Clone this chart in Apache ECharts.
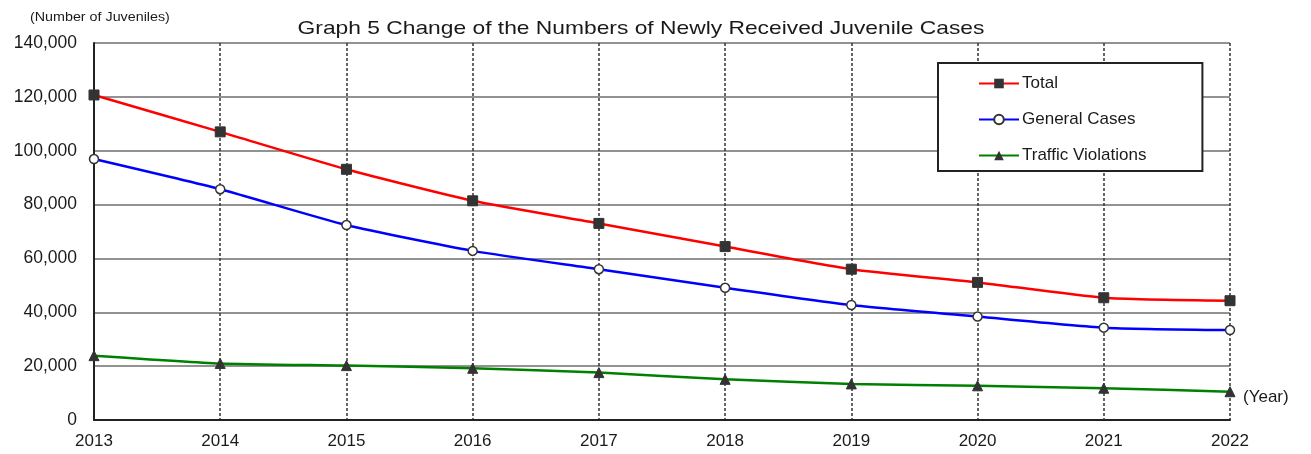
<!DOCTYPE html>
<html>
<head>
<meta charset="utf-8">
<script src="https://cdn.jsdelivr.net/npm/echarts@6/dist/echarts.min.js"></script>
<style>
html,body{margin:0;padding:0;background:#fff;}
#chart{width:1311px;height:454px;}
</style>
</head>
<body>
<div id="chart"></div>
<script>
// values
var years=['2013','2014','2015','2016','2017','2018','2019','2020','2021','2022'];
var total=[120700,107000,93100,81400,73000,64400,56000,51100,45400,44300];
var general=[96900,85700,72400,62800,56000,49100,42700,38400,34300,33400];
var traffic=[23900,21000,20200,19200,17600,15100,13400,12700,11800,10500];

var chart=echarts.init(document.getElementById('chart'));
var font='Arial, "Liberation Sans", sans-serif';
var option={
    backgroundColor:'#fff',
    animation:false,
    grid:{left:94,right:81,top:43,bottom:34},
    legend:{
        orient:'vertical',
        left:938,top:63,
        padding:[12,56,7,40],
        itemGap:19,
        itemWidth:40,itemHeight:12,
        borderColor:'#222',borderWidth:2,
        backgroundColor:'#fff',
        textStyle:{fontFamily:font,fontSize:17,color:'#1a1a1a',width:150,padding:[0,0,0,-2]},
        data:['Total','General Cases','Traffic Violations']
    },
    xAxis:{
        type:'category',
        boundaryGap:false,
        data:years,
        axisLine:{lineStyle:{color:'#222',width:2}},
        axisTick:{show:false},
        axisLabel:{fontFamily:font,fontSize:17,color:'#1a1a1a',margin:13},
        splitLine:{show:true,lineStyle:{color:'#333',type:[3,2],width:1.5}}
    },
    yAxis:{
        type:'value',
        min:0,max:140000,interval:20000,
        axisLine:{show:true,lineStyle:{color:'#222',width:2}},
        axisTick:{show:false},
        axisLabel:{fontFamily:font,fontSize:17.5,color:'#1a1a1a',margin:17,
            formatter:function(v){return v.toLocaleString('en-US');}},
        splitLine:{show:true,lineStyle:{color:'#6e6e6e',width:1.5}}
    },
    graphic:[
        {type:'text',x:641,y:29,scaleX:1.2,
            style:{text:'Graph 5 Change of the Numbers of Newly Received Juvenile Cases',
                font:'19px '+font,fill:'#1a1a1a',align:'center',verticalAlign:'middle'}},
        {type:'text',x:30,y:17,scaleX:1.1,
            style:{text:'(Number of Juveniles)',font:'13px '+font,fill:'#1a1a1a',verticalAlign:'middle'}},
        {type:'text',x:1243,y:397,
            style:{text:'(Year)',font:'17px '+font,fill:'#1a1a1a',verticalAlign:'middle'}}
    ],
    series:[
        {
            name:'Total',type:'line',smooth:0.2,data:total,
            symbol:'rect',symbolSize:10,
            lineStyle:{color:'#ff0000',width:2.5},
            itemStyle:{color:'#333',borderColor:'#333'},
            color:'#ff0000'
        },
        {
            name:'General Cases',type:'line',smooth:0.2,data:general,
            symbol:'circle',symbolSize:9,
            lineStyle:{color:'#0000ff',width:2.5},
            itemStyle:{color:'#fff',borderColor:'#333',borderWidth:1.5}
        },
        {
            name:'Traffic Violations',type:'line',smooth:0.2,data:traffic,
            symbol:'triangle',symbolSize:10,
            lineStyle:{color:'#008000',width:2.5},
            itemStyle:{color:'#333',borderColor:'#333'}
        }
    ]
};
chart.setOption(option);
</script>
</body>
</html>
